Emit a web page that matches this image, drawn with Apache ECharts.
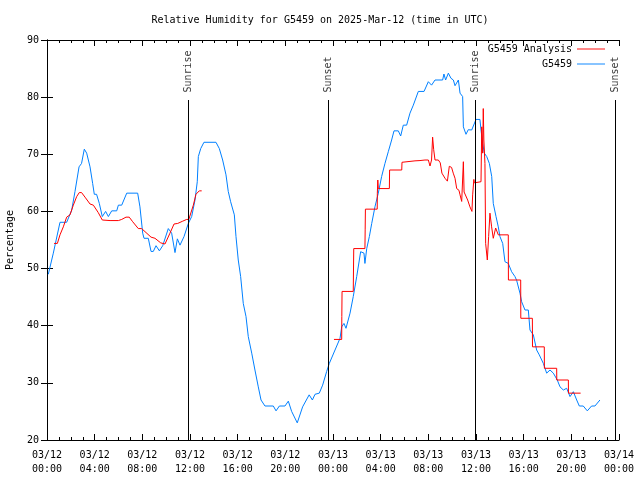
<!DOCTYPE html>
<html>
<head>
<meta charset="utf-8">
<script src="https://cdn.jsdelivr.net/npm/echarts@6/dist/echarts.min.js"></script>
<style>html,body{margin:0;padding:0;background:#fff}#c{width:640px;height:480px}</style>
</head>
<body>
<div id="c"></div>
<script>
// hours since 2025-03-12 00:00 UTC
var blueT = [0.11,0.53,1.09,1.65,2.07,2.35,2.69,2.9,3.13,3.33,3.61,3.83,3.97,4.16,4.39,4.64,4.92,5.15,5.43,5.85,5.99,6.27,6.69,7.61,7.8,8.03,8.14,8.5,8.73,8.92,9.15,9.43,9.71,9.84,10.18,10.46,10.74,10.94,11.16,11.5,11.86,12.14,12.42,12.61,12.7,12.9,13.17,14.18,14.46,14.74,15.02,15.21,15.41,15.72,15.86,16.05,16.25,16.47,16.7,16.89,17.18,17.45,17.73,17.96,18.29,18.99,19.22,19.5,19.97,20.25,20.53,21.0,21.45,22.0,22.27,22.49,22.85,23.13,23.47,23.69,24.17,24.59,24.73,24.92,25.09,25.43,25.7,25.99,26.21,26.32,26.6,26.68,26.83,27.05,27.25,27.52,27.8,28.08,28.36,28.64,28.92,29.12,29.48,29.68,29.9,30.18,30.46,30.74,31.16,31.64,32.0,32.27,32.56,33.2,33.31,33.45,33.68,33.9,34.1,34.24,34.52,34.66,34.88,34.94,35.16,35.35,35.64,36.0,36.33,36.42,36.56,36.7,36.9,37.12,37.32,37.45,37.68,37.87,38.01,38.24,38.43,38.71,38.99,39.27,39.41,39.69,39.83,40.11,40.39,40.53,40.81,41.09,41.31,41.65,41.93,42.21,42.49,42.82,43.05,43.33,43.61,43.89,44.17,44.45,44.67,45.0,45.34,45.7,45.98,46.4];
var blueV = [49.0,52.7,58.1,58.1,60.2,63.5,67.8,68.4,70.9,70.2,67.8,64.9,63.0,63.0,61.4,59.1,60.0,59.1,60.1,60.1,61.1,61.1,63.2,63.2,60.8,56.2,55.3,55.3,53.0,53.0,54.0,53.1,54.0,54.2,57.0,56.2,52.8,55.2,54.1,55.6,57.9,59.1,62.0,65.2,69.6,71.0,72.1,72.1,71.0,69.0,66.4,63.5,61.7,59.4,55.6,51.5,48.6,43.9,41.6,38.1,35.2,32.25,29.3,27.0,25.95,25.95,25.1,25.95,25.95,26.8,25.0,23.0,25.8,27.9,27.0,28.0,28.2,29.6,32.0,33.4,35.75,37.8,39.8,40.4,39.55,42.2,45.1,48.6,51.5,52.95,52.7,50.9,53.5,55.6,57.9,60.8,63.2,66.1,68.4,70.45,72.5,74.1,74.1,73.2,75.1,75.1,77.2,78.6,81.0,81.0,82.7,82.1,83.0,83.0,84.05,83.0,84.2,83.3,83.0,82.0,83.0,80.7,80.1,74.8,73.5,74.3,74.25,76.1,76.1,74.25,71.9,70.2,69.6,68.4,66.1,61.4,59.1,57.3,55.6,54.4,51.2,50.9,49.45,48.6,47.95,45.7,44.2,42.75,42.75,39.25,38.4,35.75,34.9,33.4,31.7,32.25,31.7,30.5,29.3,28.75,29.05,27.6,28.45,27.0,25.95,25.95,25.1,25.95,25.95,27.0];

var redT = [0.59,0.87,1.09,1.37,1.65,1.93,2.21,2.49,2.71,2.9,3.19,3.61,3.89,4.3,4.64,5.29,5.99,6.27,6.63,6.9,7.19,7.66,7.94,8.31,8.73,9.06,9.54,9.9,10.32,10.66,10.97,11.39,11.72,11.9,12.28,12.5,12.78,12.98,
  18.0,
  24.08,24.73,24.74,24.76,25.7,25.72,25.74,26.68,26.7,26.72,27.71,27.72,27.76,27.8,28.73,28.75,29.77,29.79,30.88,31.3,31.72,31.86,32.0,32.14,32.27,32.36,32.45,32.56,32.84,33.0,33.14,33.24,33.4,33.6,33.76,33.95,34.09,34.24,34.38,34.57,34.66,34.8,34.94,35.0,35.16,35.3,35.49,35.66,35.72,35.82,35.86,36.0,36.42,36.48,36.56,36.61,36.66,36.75,36.81,36.95,37.06,37.17,37.31,37.45,37.65,37.87,38.71,38.72,39.75,39.76,40.73,40.74,41.73,41.74,42.77,42.78,43.75,43.76,44.78];
var redV = [54.4,54.4,55.9,57.3,59.0,59.4,61.1,62.6,63.3,63.3,62.5,61.3,61.1,59.8,58.5,58.4,58.4,58.6,59.0,59.0,58.2,57.0,57.0,56.3,55.5,55.3,54.5,54.3,56.2,57.8,57.9,58.3,58.6,58.6,61.1,63.0,63.6,63.6,
  null,
  37.6,37.6,41.6,46.0,46.0,49.75,53.5,53.5,56.9,60.4,60.4,63.2,65.5,64.0,64.0,67.25,67.25,68.6,68.85,68.9,69.0,68.9,69.0,67.95,69.0,73.0,70.8,69.0,69.0,68.5,66.7,66.5,65.8,65.3,67.9,67.7,66.7,65.8,64.0,63.7,62.9,61.75,68.7,63.4,63.2,62.0,60.8,60.0,62.9,65.6,65.0,65.2,65.2,74.8,70.2,78.0,72.5,68.4,54.4,51.5,55.6,59.7,57.3,55.3,57.1,55.9,55.9,48.0,48.0,41.3,41.3,36.3,36.3,32.55,32.55,30.5,30.5,28.2,28.2];

var sunT = [11.86, 23.6, 35.97, 47.72];
var sunLabels = ['Sunrise', 'Sunset', 'Sunrise', 'Sunset'];
var sunTop = 79.5;
var yTicks = [20, 90, 10];
var titleText = 'Relative Humidity for G5459 on 2025-Mar-12 (time in UTC)';

function zip(t, v) { return t.map(function (x, i) { return [x, v[i] === null ? '-' : v[i]]; }); }
function pad(n) { return (n < 10 ? '0' : '') + n; }
function fmtX(h) { var d = 12 + Math.floor(h / 24); var hh = Math.round(h % 24); return '03/' + pad(d) + '\n' + pad(hh) + ':00'; }

var font = 'DejaVu Sans Mono';
var sunLines = sunT.map(function (t) { return [{ coord: [t, sunTop] }, { coord: [t, yTicks[0]] }]; });
var sunLabelData = sunT.map(function (t, i) { return { value: [t, sunTop + 1.3], label: { formatter: sunLabels[i] } }; });

var chart = echarts.init(document.getElementById('c'), null, { renderer: 'canvas' });
chart.setOption({
  animation: false,
  backgroundColor: '#fff',
  textStyle: { fontFamily: font },
  title: { text: titleText, left: 'center', top: 10, textStyle: { fontFamily: font, fontSize: 10, fontWeight: 'normal', color: '#000' } },
  legend: {
    orient: 'vertical', right: 30, top: 39, align: 'right', itemGap: 5, itemWidth: 28, itemHeight: 10,
    textStyle: { fontFamily: font, fontSize: 10, color: '#000' },
    data: [
      { name: 'G5459 Analysis', icon: 'path://M0,5 L30,5 L30,6 L0,6 Z' },
      { name: 'G5459', icon: 'path://M0,5 L30,5 L30,6 L0,6 Z' }
    ]
  },
  grid: { left: 47, right: 21, top: 40, bottom: 40, containLabel: false, outerBoundsMode: 'none' },
  xAxis: [{
    type: 'value', min: 0, max: 48, interval: 4,
    axisLine: { show: true, lineStyle: { color: '#000', width: 1 } },
    axisTick: { show: true, inside: true, length: 6, lineStyle: { color: '#000' } },
    minorTick: { show: true, splitNumber: 4, length: 3, lineStyle: { color: '#000' } },
    splitLine: { show: false },
    axisLabel: { formatter: fmtX, color: '#000', fontFamily: font, fontSize: 10, lineHeight: 14, margin: 8 }
  }, {
    type: 'value', min: 0, max: 48, interval: 4, position: 'top',
    axisLine: { show: true, lineStyle: { color: '#000', width: 1 } },
    axisTick: { show: true, inside: true, length: 6, lineStyle: { color: '#000' } },
    minorTick: { show: true, splitNumber: 4, length: 3, lineStyle: { color: '#000' } },
    splitLine: { show: false }, axisLabel: { show: false }
  }],
  yAxis: [{
    type: 'value', min: yTicks[0], max: yTicks[1], interval: yTicks[2],
    name: 'Percentage', nameLocation: 'middle', nameGap: 32, nameRotate: 90,
    nameTextStyle: { fontFamily: font, fontSize: 10, color: '#000' },
    axisLine: { show: true, lineStyle: { color: '#000', width: 1 } },
    axisTick: { show: true, inside: true, length: 6, lineStyle: { color: '#000' } },
    splitLine: { show: false },
    axisLabel: { color: '#000', fontFamily: font, fontSize: 10, margin: 8 }
  }, {
    type: 'value', min: yTicks[0], max: yTicks[1], interval: yTicks[2], position: 'right',
    axisLine: { show: true, lineStyle: { color: '#000', width: 1 } },
    axisTick: { show: true, inside: true, length: 6, lineStyle: { color: '#000' } },
    splitLine: { show: false }, axisLabel: { show: false }
  }],
  series: [{
    name: 'G5459 Analysis', type: 'line', data: zip(redT, redV), showSymbol: false, symbol: 'none',
    connectNulls: false, lineStyle: { color: '#ff0000', width: 1 }, itemStyle: { color: '#ff0000' }, z: 3
  }, {
    name: 'G5459', type: 'line', data: zip(blueT, blueV), showSymbol: false, symbol: 'none',
    lineStyle: { color: '#0080ff', width: 1 }, itemStyle: { color: '#0080ff' }, z: 2,
    markLine: {
      silent: true, symbol: ['none', 'none'], label: { show: false },
      lineStyle: { color: '#000', width: 1, type: 'solid' }, data: sunLines
    }
  }, {
    name: 'sun', type: 'scatter', symbolSize: 0, data: sunLabelData, silent: true,
    label: { show: true, position: 'inside', rotate: 90, align: 'left', verticalAlign: 'middle', color: '#000', fontFamily: font, fontSize: 10 }
  }]
});
</script>
</body>
</html>
